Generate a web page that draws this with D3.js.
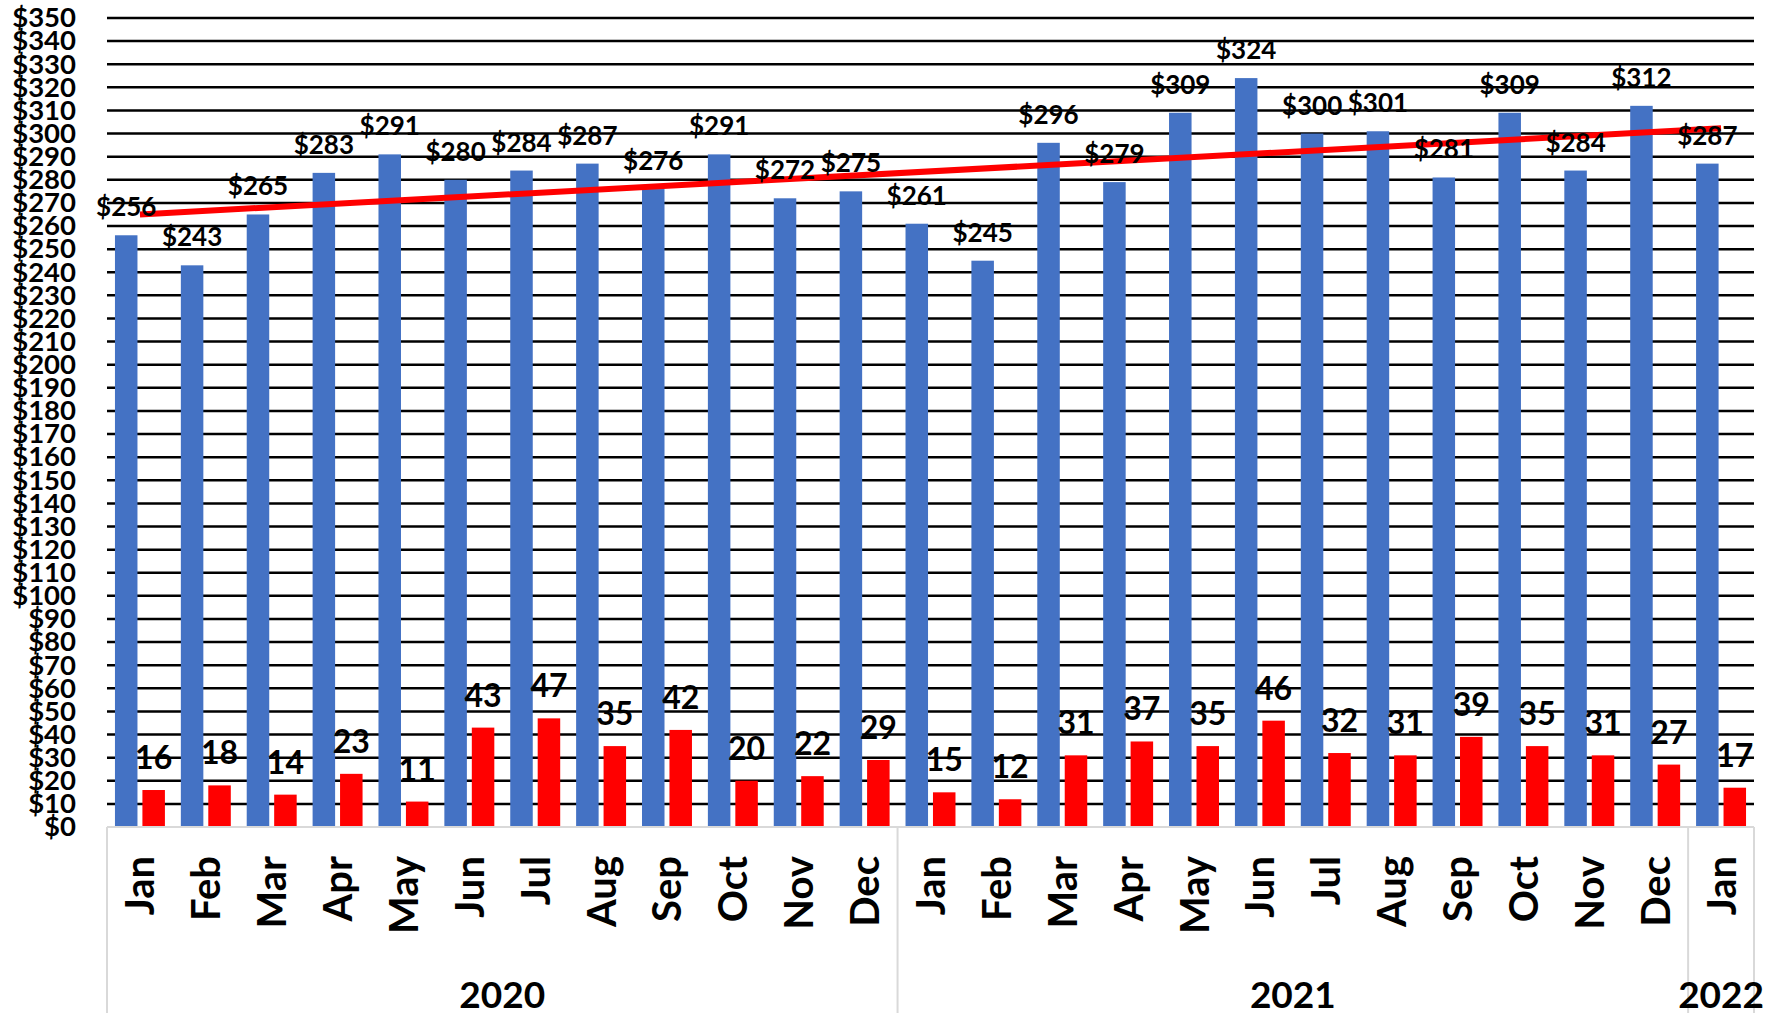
<!DOCTYPE html>
<html>
<head>
<meta charset="utf-8">
<script src="https://cdn.jsdelivr.net/npm/d3@7"></script>
<style>
  body { margin: 0; background: #fff; }
  text { font-family: Lato, "Open Sans", sans-serif; font-weight: bold; fill: #000; }
</style>
</head>
<body>
<svg id="chart" width="1776" height="1013"></svg>
<script>
// data
var years = ["2020", "2021", "2022"];
var months = ["Jan", "Feb", "Mar", "Apr", "May", "Jun", "Jul", "Aug", "Sep", "Oct", "Nov", "Dec",
    "Jan", "Feb", "Mar", "Apr", "May", "Jun", "Jul", "Aug", "Sep", "Oct", "Nov", "Dec",
    "Jan"];
var monthYear = ["2020", "2020", "2020", "2020", "2020", "2020", "2020", "2020", "2020", "2020", "2020", "2020",
    "2021", "2021", "2021", "2021", "2021", "2021", "2021", "2021", "2021", "2021", "2021", "2021",
    "2022"];
var blueValues = [256, 243, 265, 283, 291, 280, 284, 287, 276, 291, 272, 275,
    261, 245, 296, 279, 309, 324, 300, 301, 281, 309, 284, 312,
    287];
var redValues = [16, 18, 14, 23, 11, 43, 47, 35, 42, 20, 22, 29,
    15, 12, 31, 37, 35, 46, 32, 31, 39, 35, 31, 27,
    17];
var yTicks = [0, 10, 20, 30, 40, 50, 60, 70, 80, 90, 100, 110, 120, 130, 140, 150, 160, 170,
    180, 190, 200, 210, 220, 230, 240, 250, 260, 270, 280, 290, 300, 310, 320, 330, 340, 350];

// layout
var margin = { top: 18, right: 22, bottom: 186, left: 107 },
    width = 1776 - margin.left - margin.right,
    height = 1013 - margin.top - margin.bottom;

var svg = d3.select("#chart");
var g = svg.append("g")
    .attr("transform", "translate(" + margin.left + "," + margin.top + ")");

var idx = d3.range(months.length);

var x = d3.scaleBand()
    .domain(idx)
    .range([0, width]);

var xSeries = d3.scaleBand()
    .domain(["blue", "red"])
    .range([0, x.bandwidth()])
    .paddingInner(0.18)
    .paddingOuter(0.29);

var y = d3.scaleLinear()
    .domain([0, 350])
    .range([height, 0]);

// gridlines
g.append("g")
    .selectAll("line")
    .data(yTicks.slice(1))
    .enter()
    .append("line")
    .attr("x1", 0)
    .attr("x2", width)
    .attr("y1", function (d) { return y(d); })
    .attr("y2", function (d) { return y(d); })
    .attr("stroke", "#000")
    .attr("stroke-width", 2.5);

// y axis labels
var yAxis = d3.axisLeft(y)
    .tickValues(yTicks)
    .tickSize(0)
    .tickPadding(31)
    .tickFormat(function (d) { return "$" + d; });

g.append("g")
    .attr("class", "axis")
    .call(yAxis)
    .call(function (a) { a.select(".domain").remove(); })
    .selectAll("text")
    .style("font-size", "27.5px")
    .style("font-family", "Lato, 'Open Sans', sans-serif")
    .style("font-weight", "bold")
    .attr("fill", "#000");

// bars
g.selectAll(".bar-blue")
    .data(blueValues)
    .enter()
    .append("rect")
    .attr("class", "bar-blue")
    .attr("x", function (d, i) { return x(i) + xSeries("blue"); })
    .attr("y", function (d) { return y(d); })
    .attr("width", xSeries.bandwidth())
    .attr("height", function (d) { return height - y(d); })
    .attr("fill", "#4472C4");

g.selectAll(".bar-red")
    .data(redValues)
    .enter()
    .append("rect")
    .attr("class", "bar-red")
    .attr("x", function (d, i) { return x(i) + xSeries("red"); })
    .attr("y", function (d) { return y(d); })
    .attr("width", xSeries.bandwidth())
    .attr("height", function (d) { return height - y(d); })
    .attr("fill", "#FF0000");

// category axis lines
g.append("line")
    .attr("x1", 0).attr("x2", width)
    .attr("y1", height).attr("y2", height)
    .attr("stroke", "#d9d9d9").attr("stroke-width", 2);

var groupEdges = [0];
years.forEach(function (yr) {
    var last = monthYear.lastIndexOf(yr);
    groupEdges.push(x(last) + x.bandwidth());
});

g.selectAll(".sep")
    .data(groupEdges)
    .enter()
    .append("line")
    .attr("class", "sep")
    .attr("x1", function (d) { return d; })
    .attr("x2", function (d) { return d; })
    .attr("y1", height)
    .attr("y2", height + margin.bottom)
    .attr("stroke", "#d9d9d9")
    .attr("stroke-width", 2);

// trendline (linear fit of the blue series)
var meanX = d3.mean(idx), meanY = d3.mean(blueValues);
var sxy = d3.sum(idx, function (i) { return (i - meanX) * (blueValues[i] - meanY); });
var sxx = d3.sum(idx, function (i) { return (i - meanX) * (i - meanX); });
var slope = sxy / sxx, icpt = meanY - slope * meanX;
var first = 0, lastI = idx.length - 1;

g.append("line")
    .attr("x1", x(first) + x.bandwidth() / 2)
    .attr("y1", y(icpt + slope * first))
    .attr("x2", x(lastI) + x.bandwidth() / 2)
    .attr("y2", y(icpt + slope * lastI))
    .attr("stroke", "#FF0000")
    .attr("stroke-width", 6);

// data labels
g.selectAll(".lbl-blue")
    .data(blueValues)
    .enter()
    .append("text")
    .attr("class", "lbl-blue")
    .attr("x", function (d, i) { return x(i) + xSeries("blue") + xSeries.bandwidth() / 2; })
    .attr("y", function (d) { return y(d) - 19; })
    .attr("text-anchor", "middle")
    .style("font-size", "26px")
    .text(function (d) { return "$" + d; });

g.selectAll(".lbl-red")
    .data(redValues)
    .enter()
    .append("text")
    .attr("class", "lbl-red")
    .attr("x", function (d, i) { return x(i) + xSeries("red") + xSeries.bandwidth() / 2; })
    .attr("y", function (d) { return y(d) - 21; })
    .attr("text-anchor", "middle")
    .style("font-size", "32px")
    .text(function (d) { return d; });

// month labels
g.selectAll(".month")
    .data(months)
    .enter()
    .append("text")
    .attr("class", "month")
    .attr("transform", function (d, i) {
        return "translate(" + (x(i) + x.bandwidth() / 2) + "," + (height + 29) + ") rotate(-90)";
    })
    .attr("y", 14.5)
    .attr("text-anchor", "end")
    .style("font-size", "40px")
    .text(function (d) { return d; });

// year labels
g.selectAll(".year")
    .data(years)
    .enter()
    .append("text")
    .attr("class", "year")
    .attr("x", function (d, i) { return (groupEdges[i] + groupEdges[i + 1]) / 2; })
    .attr("y", height + 181)
    .attr("text-anchor", "middle")
    .style("font-size", "37px")
    .text(function (d) { return d; });
</script>
</body>
</html>
